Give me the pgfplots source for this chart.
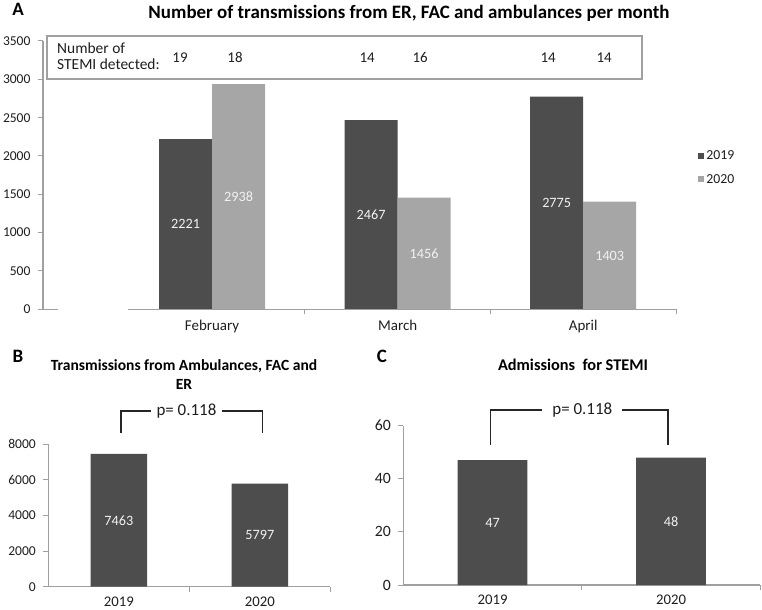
\documentclass[border=0pt]{standalone}
\usepackage{pgfplots}
\pgfplotsset{compat=1.18}
\usepackage{fontspec}
\setmainfont{Carlito}
\definecolor{darkbar}{HTML}{4D4D4D}
\definecolor{lightbar}{HTML}{A6A6A6}
\definecolor{axisgray}{HTML}{A0A0A0}
\definecolor{txt}{HTML}{1E1E1E}
\definecolor{barlab}{HTML}{F2F2F2}
\pgfplotsset{
  /pgf/number format/1000 sep={},
  /pgf/number format/assume math mode=true,
  panel/.style={
    anchor=south west, scale only axis, clip=false,
    ymin=0,
    axis y line*=left, axis x line*=bottom,
    y axis line style={-, draw=axisgray, line width=1.2bp},
    x axis line style={-, draw=axisgray, line width=1.2bp},
    tick align=outside, major tick length=5bp,
    tick style={draw=axisgray, line width=1bp},
    xticklabels={},
    extra x tick style={major tick length=0bp},
    xticklabel style={yshift=-6.5bp},
    yticklabel style={xshift=-4bp},
    ybar,
    nodes near coords,
    visualization depends on={y \as \rawy},
    every node near coord/.append style={anchor=center,
      shift={(axis direction cs:0,-\rawy/2)}, text=barlab,
      font=\fontsize{14.3}{17}\selectfont},
  },
}
\begin{document}
\begin{tikzpicture}[font=\fontsize{15}{18}\selectfont, text=txt]
\useasboundingbox (0,0) rectangle (762bp,610bp);

% ---- panel A
\begin{axis}[panel,
  at={(43bp,300.7bp)}, width=633bp, height=268.3bp,
  xmin=-0.911, xmax=2.5, ymax=3500,
  x axis line style={draw=none},
  ytick={0,500,...,3500},
  xtick={0.5,1.5,2.5},
  extra x ticks={0,1,2}, extra x tick labels={February,March,April},
  yticklabel style={font=\fontsize{13.6}{16}\selectfont},
  xticklabel style={font=\fontsize{15}{18}\selectfont, yshift=-0.5bp},
  bar width=0.2857,
  legend style={at={(1.035,0.528)}, anchor=west, draw=none, fill=none,
    font=\fontsize{13.8}{16}\selectfont, row sep=9bp, inner sep=0pt},
  legend cell align=left,
]
\addplot[fill=darkbar, draw=none, bar shift=-0.14285,
  legend image code/.code={\fill[darkbar] (0bp,-3bp) rectangle (6bp,3bp);}]
  coordinates {(0,2221) (1,2467) (2,2775)};
\addlegendentry{2019}
\addplot[fill=lightbar, draw=none, bar shift=0.14285,
  legend image code/.code={\fill[lightbar] (0bp,-3bp) rectangle (6bp,3bp);}]
  coordinates {(0,2938) (1,1456) (2,1403)};
\addlegendentry{2020}
% axis base line and stub
\draw[axisgray, line width=1.2bp] (axis cs:-0.454,0) -- (axis cs:2.5,0);
\draw[axisgray, line width=1.2bp] (axis cs:-0.911,0) -- (axis cs:-0.83,0);
% STEMI detected counts
\node[anchor=base] at (axis cs:-0.1725,3222) {19};
\node[anchor=base] at (axis cs:0.124,3222) {18};
\node[anchor=base] at (axis cs:0.836,3222) {14};
\node[anchor=base] at (axis cs:1.121,3222) {16};
\node[anchor=base] at (axis cs:1.811,3222) {14};
\node[anchor=base] at (axis cs:2.113,3222) {14};
\end{axis}
\draw[axisgray, line width=1.2bp] (47bp,531bp) rectangle (642bp,574bp);
\node[anchor=base west, inner sep=0pt, font=\fontsize{15.5}{18}\selectfont] at (57bp,556.7bp) {Number of};
\node[anchor=base west, inner sep=0pt, font=\fontsize{15.5}{18}\selectfont] at (57bp,540.7bp) {STEMI detected:};
\node[anchor=base, font=\bfseries\fontsize{19}{22}\selectfont, text=black] at (18bp,594bp) {A};
\node[anchor=base, font=\bfseries\fontsize{19}{22}\selectfont, text=black] at (409bp,591.7bp)
  {Number of transmissions from ER, FAC and ambulances per month};

% ---- panel B
\begin{axis}[panel,
  at={(48.3bp,23.3bp)}, width=282bp, height=142.4bp,
  xmin=-0.5, xmax=1.5, ymax=8000,
  ytick={0,2000,...,8000},
  xtick={0.5,1.5},
  extra x ticks={0,1}, extra x tick labels={2019,2020},
  yticklabel style={font=\fontsize{13.6}{16}\selectfont},
  xticklabel style={font=\fontsize{14.8}{18}\selectfont},
  bar width=0.4,
]
\addplot[fill=darkbar, draw=none, bar shift=0] coordinates {(0,7463) (1,5797)};
\draw[black!85, line width=1.5bp] (axis cs:0.014,8635) -- (axis cs:0.014,9871)
  -- (axis cs:1.02,9871) -- (axis cs:1.02,8635);
\node[fill=white, inner xsep=6bp, font=\fontsize{17}{20}\selectfont] at (axis cs:0.48,9871) {p= 0.118};
\end{axis}
\node[anchor=base, font=\bfseries\fontsize{19}{22}\selectfont, text=black] at (18bp,247bp) {B};
\node[anchor=base, font=\bfseries\fontsize{15.6}{18}\selectfont, text=black] at (184bp,239.3bp)
  {Transmissions from Ambulances, FAC and};
\node[anchor=base, font=\bfseries\fontsize{15.6}{18}\selectfont, text=black] at (184bp,220bp) {ER};

% ---- panel C
\begin{axis}[panel,
  at={(403.3bp,25bp)}, width=357bp, height=159.3bp,
  xmin=-0.5, xmax=1.5, ymax=60,
  ytick={0,20,...,60},
  xtick={0.5,1.5},
  extra x ticks={0,1}, extra x tick labels={2019,2020},
  yticklabel style={font=\fontsize{15.8}{18}\selectfont},
  xticklabel style={font=\fontsize{14.8}{18}\selectfont},
  bar width=0.39,
]
\addplot[fill=darkbar, draw=none, bar shift=0] coordinates {(0,47) (1,48)};
\draw[black!85, line width=1.5bp] (axis cs:-0.011,52.7) -- (axis cs:-0.011,65.9)
  -- (axis cs:0.983,65.9) -- (axis cs:0.983,52.7);
\node[fill=white, inner xsep=10bp, font=\fontsize{17}{20}\selectfont] at (axis cs:0.503,65.9) {p= 0.118};
\end{axis}
\node[anchor=base, font=\bfseries\fontsize{19}{22}\selectfont, text=black] at (382bp,247bp) {C};
\node[anchor=base, font=\bfseries\fontsize{16.4}{19}\selectfont, text=black] at (573bp,239.3bp)
  {Admissions\ \ for STEMI};
\end{tikzpicture}
\end{document}
